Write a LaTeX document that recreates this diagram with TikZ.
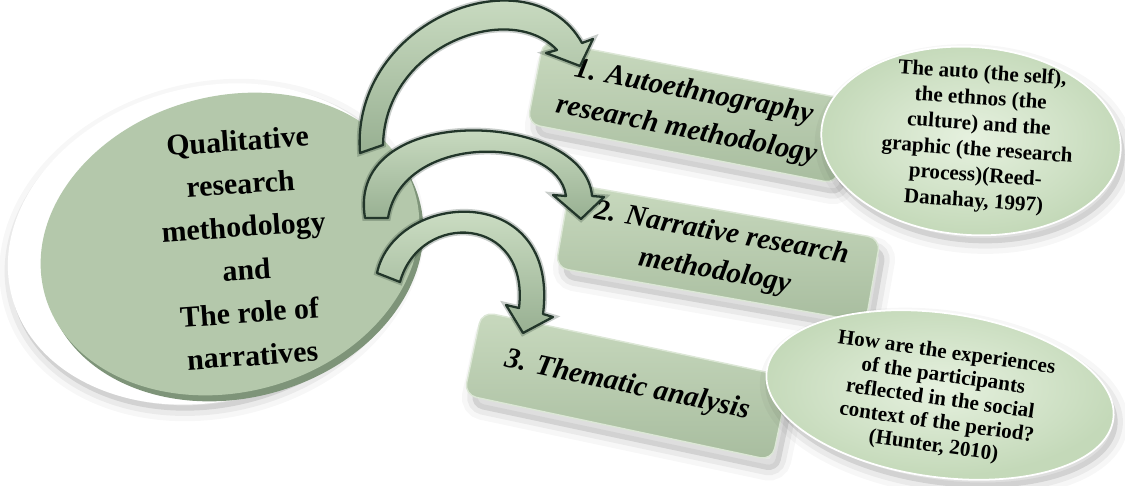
\documentclass[tikz,border=0pt]{standalone}
\usepackage{fontspec}
\setmainfont{Liberation Serif}
\usetikzlibrary{shapes.geometric}

\definecolor{face}{HTML}{B4C8AB}
\definecolor{facerim}{HTML}{7E9479}
\definecolor{boxtop}{HTML}{C8D9BE}
\definecolor{boxbot}{HTML}{A8BD9F}
\definecolor{boxedge}{HTML}{DCE7D6}
\definecolor{ovalin}{HTML}{E6F1DF}
\definecolor{ovalout}{HTML}{C4D9B9}
\definecolor{arrowlight}{HTML}{D8E8CF}
\definecolor{arrowdark}{HTML}{98B092}
\definecolor{arrowline}{HTML}{22362A}

\tikzset{
  softshadow/.style={fill=black, fill opacity=0.10,
    preaction={draw=black, draw opacity=0.03, line width=12pt},
    preaction={draw=black, draw opacity=0.05, line width=6pt}},
  disc/.style={ellipse, inner sep=0pt, minimum width=7.68cm, minimum height=5.92cm},
  halo/.style={ellipse, inner sep=0pt, minimum width=8.2cm, minimum height=6.28cm},
  coretext/.style={font=\bfseries\fontsize{17}{24.5}\selectfont, align=center, inner sep=0pt},
  stepbox/.style={rectangle, rounded corners=7pt, inner sep=0pt,
    minimum width=6.3cm, minimum height=1.7cm},
  boxfill/.style={top color=boxtop, bottom color=boxbot, draw=boxedge, line width=0.8pt},
  boxtext/.style={font=\bfseries\itshape\fontsize{16.6}{22}\selectfont, align=center},
  oval/.style={ellipse, inner sep=0pt},
  ovalfill/.style={shading=radial, inner color=ovalin, outer color=ovalout,
    draw=white, line width=1pt},
  ovaltext/.style={font=\bfseries\fontsize{12}{14.6}\selectfont, align=center, inner sep=0pt},
  bent/.style={draw=arrowline, line width=1.3pt, line join=round,
    top color=arrowlight, bottom color=arrowdark,
    preaction={draw=arrowline, draw opacity=0.25, line width=3.2pt}}
}

\begin{document}
\begin{tikzpicture}[x=0.02cm, y=-0.02cm]
\useasboundingbox (0,0) rectangle (1125,486);

% central disc with its bevel and rim
\node[halo, softshadow, rotate=15] (coreshadow) at (212,250) {};
\node[halo, fill=white, rotate=15] (corehalo) at (210,244) {};
\node[disc, fill=facerim, rotate=15] (corerim) at (234,250) {};
\node[disc, fill=face, rotate=15] (core) at (230,244) {};
\node[coretext, rotate=4] (coretxt) at (245,248)
  {Qualitative\\research\\methodology\\and\\The role of\\narratives};

% the three steps
\node[stepbox, softshadow, rotate=-11] (b1s) at (696,124) {};
\node[stepbox, boxfill, boxtext, rotate=-11] (b1) at (690,112)
  {1. Autoethnography\\research methodology};
\node[stepbox, softshadow, rotate=-10] (b2s) at (724,264) {};
\node[stepbox, boxfill, boxtext, rotate=-10] (b2) at (718,253)
  {2. Narrative research\\methodology};
\node[stepbox, softshadow, rotate=-12] (b3s) at (633,398) {};
\node[stepbox, boxfill, boxtext, rotate=-12] (b3) at (627,386)
  {3. Thematic analysis};

% notes beside steps 1 and 3
\node[oval, softshadow, rotate=-4, minimum width=6cm, minimum height=3.76cm] (o1s) at (975,149) {};
\node[oval, ovalfill, rotate=-4, minimum width=6cm, minimum height=3.76cm] (o1) at (971,141) {};
\node[ovaltext, rotate=-4] (o1t) at (978,138)
  {The auto (the self),\\the ethnos (the\\culture) and the\\graphic (the research\\process)(Reed-\\Danahay, 1997)};
\node[oval, softshadow, rotate=-8, minimum width=7cm, minimum height=3.28cm] (o2s) at (944,403) {};
\node[oval, ovalfill, rotate=-8, minimum width=7cm, minimum height=3.28cm] (o2) at (940,395) {};
\node[ovaltext, rotate=-8, font=\bfseries\fontsize{12}{13.4}\selectfont] (o2t) at (940,400)
  {How are the experiences\\of the participants\\reflected in the social\\context of the period?\\(Hunter, 2010)};

% curved arrows from the disc to each step
\coordinate (a1o) at (360,153);  \coordinate (a1i) at (383,145);
\coordinate (a1so) at (582,43);  \coordinate (a1si) at (557,50);
\coordinate (a1wo) at (593,39);  \coordinate (a1wi) at (546,53);
\coordinate (a1tip) at (580,66);
\draw[bent] (a1o) .. controls (350,20) and (530,-50) .. (a1so) -- (a1wo) -- (a1tip)
  -- (a1wi) -- (a1si) .. controls (510,0) and (385,45) .. (a1i) -- cycle;

\coordinate (a2o) at (365,218);  \coordinate (a2i) at (388,218);
\coordinate (a2so) at (592,196); \coordinate (a2si) at (566,196);
\coordinate (a2wo) at (604,197); \coordinate (a2wi) at (553,195);
\coordinate (a2tip) at (581,219);
\draw[bent] (a2o) .. controls (345,100) and (585,110) .. (a2so) -- (a2wo) -- (a2tip)
  -- (a2wi) -- (a2si) .. controls (558,135) and (402,132) .. (a2i) -- cycle;

\coordinate (a3o) at (377,273);  \coordinate (a3i) at (400,282);
\coordinate (a3so) at (543,314); \coordinate (a3si) at (519,308);
\coordinate (a3wo) at (553,317); \coordinate (a3wi) at (506,305);
\coordinate (a3tip) at (523,333);
\draw[bent] (a3o) .. controls (395,190) and (560,180) .. (a3so) -- (a3wo) -- (a3tip)
  -- (a3wi) -- (a3si) .. controls (530,215) and (420,210) .. (a3i) -- cycle;
\end{tikzpicture}
\end{document}
